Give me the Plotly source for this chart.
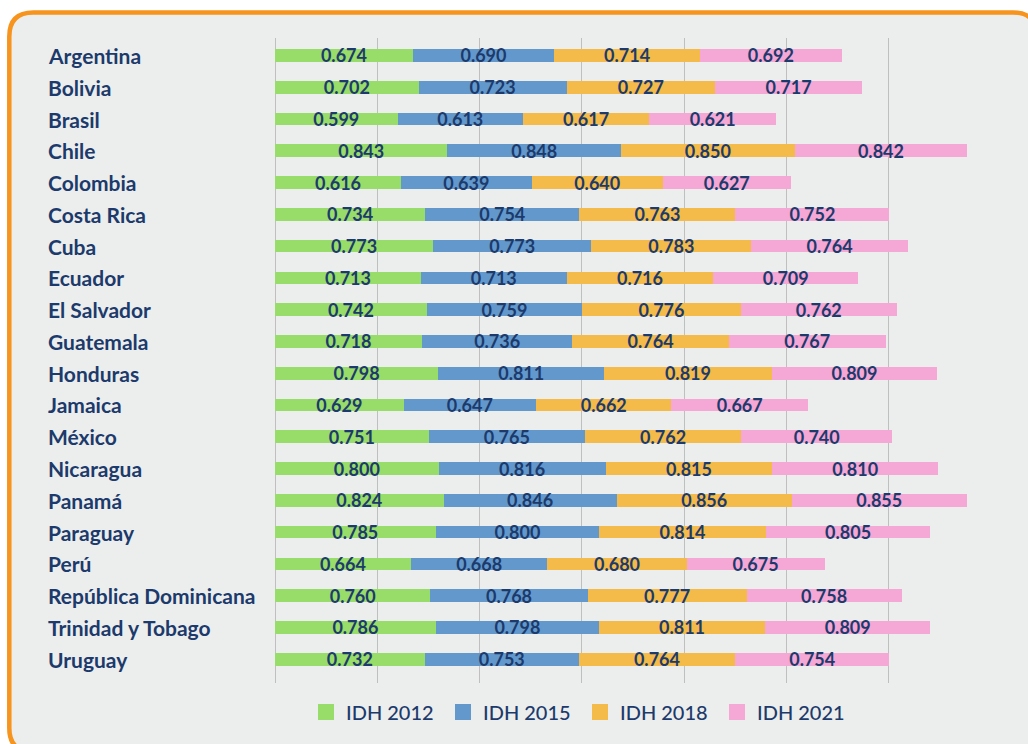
import plotly.graph_objects as go

countries = ["Argentina", "Bolivia", "Brasil", "Chile", "Colombia", "Costa Rica", "Cuba",
             "Ecuador", "El Salvador", "Guatemala", "Honduras", "Jamaica", "México",
             "Nicaragua", "Panamá", "Paraguay", "Perú", "República Dominicana",
             "Trinidad y Tobago", "Uruguay"]

idh_2012 = [0.674, 0.702, 0.599, 0.843, 0.616, 0.734, 0.773, 0.713, 0.742, 0.718,
            0.798, 0.629, 0.751, 0.800, 0.824, 0.785, 0.664, 0.760, 0.786, 0.732]
idh_2015 = [0.690, 0.723, 0.613, 0.848, 0.639, 0.754, 0.773, 0.713, 0.759, 0.736,
            0.811, 0.647, 0.765, 0.816, 0.846, 0.800, 0.668, 0.768, 0.798, 0.753]
idh_2018 = [0.714, 0.727, 0.617, 0.850, 0.640, 0.763, 0.783, 0.716, 0.776, 0.764,
            0.819, 0.662, 0.762, 0.815, 0.856, 0.814, 0.680, 0.777, 0.811, 0.764]
idh_2021 = [0.692, 0.717, 0.621, 0.842, 0.627, 0.752, 0.764, 0.709, 0.762, 0.767,
            0.809, 0.667, 0.740, 0.810, 0.855, 0.805, 0.675, 0.758, 0.809, 0.754]

series_names = ["IDH 2012", "IDH 2015", "IDH 2018", "IDH 2021"]
series_values = [idh_2012, idh_2015, idh_2018, idh_2021]
colors = ["#98dc6a", "#6298cc", "#f4bb4a", "#f5a7d6"]

NAVY = "#1c3a6b"
W, H = 1028, 744
L, R, T, B = 275, 1028 - 991, 38, 744 - 683
PW, PH = W - L - R, H - T - B

fig = go.Figure()
for name, vals, col in zip(series_names, series_values, colors):
    fig.add_trace(go.Bar(
        x=vals, y=countries, orientation="h", name=name, showlegend=False,
        marker=dict(color=col, line=dict(width=0)),
        text=vals, texttemplate="%{x:.3f}",
        textposition="inside", insidetextanchor="middle",
        textfont=dict(family="Lato", size=18, color=NAVY, weight="bold"),
        constraintext="none", hoverinfo="x+y+name",
    ))
# legend entries with larger square swatches
for name, col in zip(series_names, colors):
    fig.add_trace(go.Scatter(
        x=[None], y=[None], mode="markers", name=name,
        marker=dict(symbol="square", size=18, color=col),
    ))

annotations = []
for c in countries:
    annotations.append(dict(
        x=(46 - L) / PW, xref="paper", y=c, yref="y",
        text=c, showarrow=False, xanchor="left", yanchor="middle",
        font=dict(family="Lato", size=21, color=NAVY, weight="bold"),
    ))

def px(x):
    return (x - L) / PW

def py(y):
    return (T + PH - y) / PH

x0, x1, y0, y1, r = 9.3, 1037, 12.5, 752, 24
path = (f"M {px(x0+r)},{py(y0)} L {px(x1-r)},{py(y0)} Q {px(x1)},{py(y0)} {px(x1)},{py(y0+r)} "
        f"L {px(x1)},{py(y1-r)} Q {px(x1)},{py(y1)} {px(x1-r)},{py(y1)} "
        f"L {px(x0+r)},{py(y1)} Q {px(x0)},{py(y1)} {px(x0)},{py(y1-r)} "
        f"L {px(x0)},{py(y0+r)} Q {px(x0)},{py(y0)} {px(x0+r)},{py(y0)} Z")

fig.update_layout(
    width=W, height=H,
    margin=dict(l=L, r=R, t=T, b=B),
    barmode="stack", bargap=0.6,
    paper_bgcolor="white", plot_bgcolor="rgba(0,0,0,0)",
    uniformtext=dict(minsize=18, mode="show"),
    showlegend=True,
    legend=dict(orientation="h", x=px(306), xanchor="left", y=py(712), yanchor="middle",
                font=dict(family="Lato", size=20, color=NAVY, weight=500),
                bgcolor="rgba(0,0,0,0)", traceorder="normal", entrywidth=92,
                itemsizing="trace"),
    annotations=annotations,
    shapes=[dict(type="path", path=path, xref="paper", yref="paper", layer="below",
                 fillcolor="#eceeed", line=dict(color="#f7941d", width=4.5))],
    xaxis=dict(range=[0, 3.5], dtick=0.5, tick0=0, showgrid=True, gridcolor="#bfbfbf",
               gridwidth=1, zeroline=True, zerolinecolor="#bfbfbf", zerolinewidth=1,
               showticklabels=False, showline=False, fixedrange=True),
    yaxis=dict(range=[19.75, -0.55], showticklabels=False, showgrid=False,
               zeroline=False, showline=False, fixedrange=True),
)

fig.write_html("out.html", config={"displayModeBar": False},
               post_script="document.body.style.margin='0px';document.body.style.overflow='hidden';")
